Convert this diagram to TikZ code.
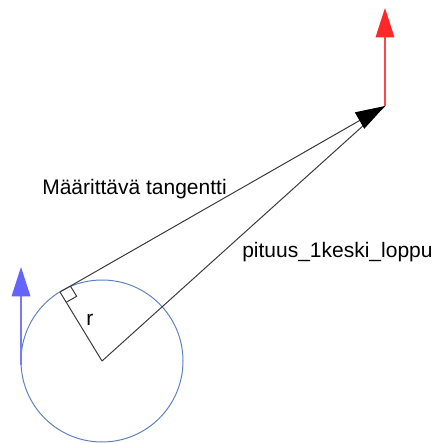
\documentclass[tikz,border=0pt]{standalone}
\usepackage{fontspec}
\setmainfont{Liberation Sans}
\usetikzlibrary{arrows.meta,calc}
\definecolor{circleBlue}{RGB}{95,130,190}
\definecolor{lineGray}{RGB}{60,60,60}
\definecolor{headRed}{RGB}{255,40,40}
\definecolor{shaftRed}{RGB}{255,70,70}
\definecolor{headBlue}{RGB}{100,100,255}
\definecolor{shaftBlue}{RGB}{120,120,255}
\tikzset{
  thinLine/.style = {lineGray, line width=0.75pt},
  bigHead/.style = {-{Triangle[length=22pt,width=14pt,color=#1]}},
  label/.style = {anchor=base west, inner sep=0pt}
}
\begin{document}
\begin{tikzpicture}[x=0.75pt, y=-0.75pt, font=\fontsize{15.75pt}{18pt}\selectfont]
    \useasboundingbox (0,0) rectangle (436,443);
    \coordinate (center)   at (102,361);
    \coordinate (touch)    at (60,292);
    \coordinate (endPoint) at (385,106);
    \coordinate (redTip)   at (385,8);
    \coordinate (blueBase) at (21,365);
    \coordinate (blueTip)  at (21,267);
    \draw[circleBlue, line width=0.75pt] (center) circle[radius=60.75pt];
    % right angle at the tangent point
    \coordinate (sqA) at ($(touch)!9pt!(center)$);
    \coordinate (sqB) at ($(touch)!9pt!(endPoint)$);
    \draw[thinLine] (sqA) -- ($(sqA)+(sqB)-(touch)$) -- (sqB);
    \begin{scope}[thinLine]
      \draw (center) -- (touch);
      \draw (center) -- (endPoint);
      \draw[bigHead=black] (touch) -- (endPoint);
    \end{scope}
    \draw[shaftRed, line width=0.9pt, bigHead=headRed] (endPoint) -- (redTip);
    \draw[shaftBlue, line width=0.9pt, bigHead=headBlue] (blueBase) -- (blueTip);
    \node[label] (tangentText) at (42,194) {Määrittävä tangentti};
    \node[label] (lengthText)  at (242,257) {pituus\_1keski\_loppu};
    \node[label] (radiusText)  at (86,325) {r};
\end{tikzpicture}
\end{document}
